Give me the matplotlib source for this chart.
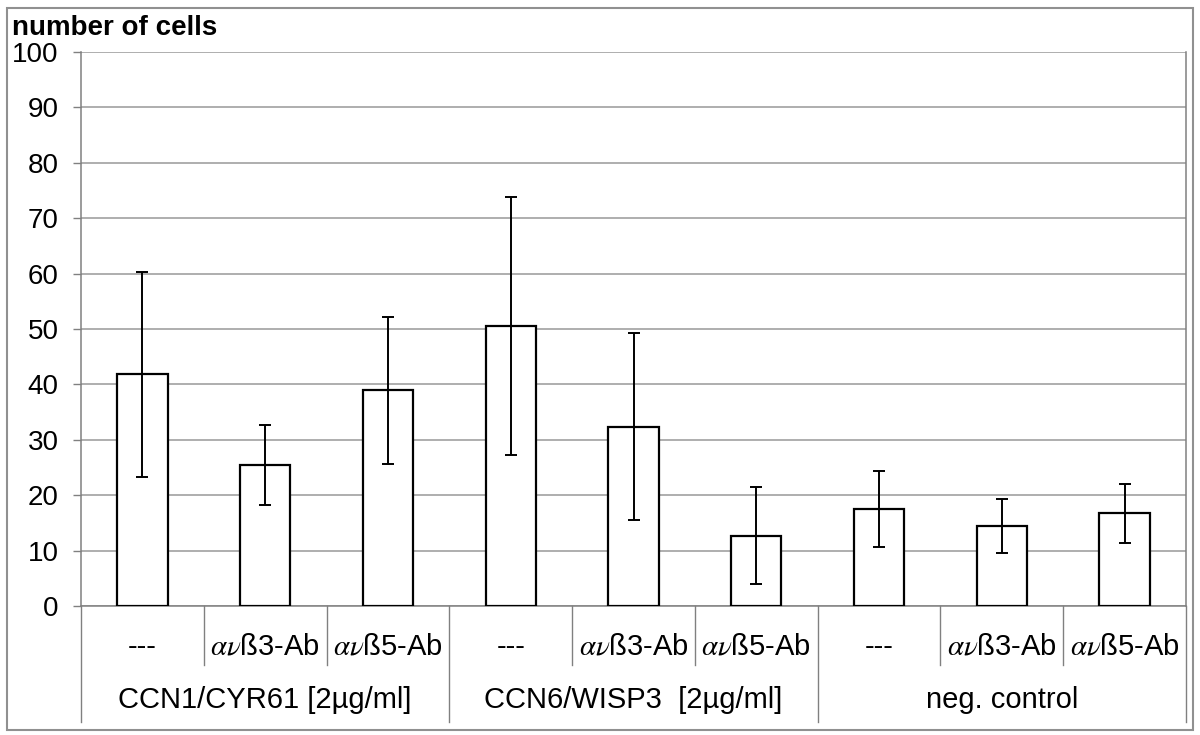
import numpy as np
import matplotlib
matplotlib.use('Agg')
from matplotlib import pyplot as plt
from matplotlib.patches import Rectangle

plt.rcParams['font.family'] = ['Liberation Sans', 'DejaVu Sans']
plt.rcParams['mathtext.fontset'] = 'stix'

# data
sub_labels = ['---', r'$\alpha\nu$ß3-Ab', r'$\alpha\nu$ß5-Ab'] * 3
groups = ['CCN1/CYR61 [2µg/ml]', 'CCN6/WISP3  [2µg/ml]', 'neg. control']
means = [41.8, 25.4, 38.9, 50.6, 32.4, 12.7, 17.5, 14.4, 16.7]
errs = [18.5, 7.2, 13.2, 23.3, 16.8, 8.8, 6.9, 4.9, 5.4]

fig = plt.figure(figsize=(12, 7.35), dpi=100)
ax = fig.add_axes([81/1200, 1 - 606/735, 1105/1200, 554/735])

x = np.arange(len(means))
ax.bar(x, means, width=0.41, color='white', edgecolor='black', linewidth=1.6, zorder=3)
ax.errorbar(x, means, yerr=errs, fmt='none', ecolor='black', elinewidth=1.4,
            capsize=4, capthick=1.4, zorder=4)

ax.set_xlim(-0.5, len(means) - 0.5)
ax.set_ylim(0, 100)
ax.set_yticks(range(0, 101, 10))
ax.yaxis.grid(True, color='#999999', linewidth=1.1, zorder=0)
ax.set_axisbelow(True)
ax.tick_params(axis='y', labelsize=20, length=6, width=1, color='#808080', pad=10)
ax.set_xticks([])
for s in ax.spines.values():
    s.set_color('#808080')
    s.set_linewidth(1.1)
ax.spines['top'].set_visible(False)

# two-level category axis
trans = ax.get_xaxis_transform()
for i, lab in enumerate(sub_labels):
    ax.text(i, -0.074, lab, transform=trans, ha='center', va='center', fontsize=21)
for g, name in enumerate(groups):
    ax.text(3 * g + 1, -0.17, name, transform=trans, ha='center', va='center', fontsize=21)
for b in np.arange(-0.5, len(means), 1.0):
    low = -0.209 if (b + 0.5) % 3 == 0 else -0.1065
    ax.plot([b, b], [0, low], transform=trans, color='#808080', lw=1.0, clip_on=False)

fig.text(12/1200, 1 - 28/735, 'number of cells', fontsize=20, fontweight='bold',
         ha='left', va='center')

fig.patches.append(Rectangle((7/1200, 1 - 730/735), 1186/1200, 722/735,
                             transform=fig.transFigure, fill=False,
                             edgecolor='#909090', linewidth=1.5))

fig.savefig('out.png', dpi=100)
